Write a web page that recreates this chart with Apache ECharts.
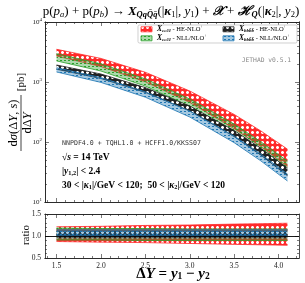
<!DOCTYPE html>
<html><head><meta charset="utf-8">
<script src="https://cdn.jsdelivr.net/npm/echarts@6/dist/echarts.min.js"></script>
<style>html,body{margin:0;padding:0;background:#fff}#c{width:305px;height:283px}</style>
</head><body><div id="c"></div>
<script>
// ---- data ----
const dY = [1.5, 2.0, 2.5, 3.0, 3.5, 3.8, 4.1];
const ccHE_lo = [2710, 1811, 1005, 457, 167, 84.3, 39.2];
const ccHE_hi = [3508, 2472, 1452, 708, 288, 153, 76];
const ccNLL_lo = [2249, 1524, 855, 395, 151, 76.9, 36.6];
const ccNLL_hi = [2965, 2009, 1127, 521, 199, 101, 48.2];
const bbHE_lo = [1633, 1143, 671, 329, 123, 60.4, 27.4];
const bbHE_hi = [1919, 1358, 807, 398, 155, 78.7, 36.9];
const bbNLL_lo = [1472, 984, 558, 261, 97.5, 48.5, 22.4];
const bbNLL_hi = [1730, 1183, 687, 329, 126, 63.2, 29.3];
// ratio panel
const rCcHE_lo = [0.875, 0.86, 0.85, 0.83, 0.81, 0.80, 0.79];
const rCcHE_hi = [1.21, 1.22, 1.24, 1.25, 1.27, 1.28, 1.29];
const rCcNLL_lo = [0.91, 0.91, 0.90, 0.90, 0.90, 0.90, 0.90];
const rCcNLL_hi = [1.18, 1.17, 1.17, 1.16, 1.16, 1.16, 1.16];
const rBbHE_lo = [0.96, 0.96, 0.96, 0.96, 0.96, 0.96, 0.96];
const rBbHE_hi = [1.11, 1.11, 1.11, 1.11, 1.11, 1.11, 1.11];
const rBbNLL_lo = [1.00, 1.00, 1.00, 1.00, 1.00, 1.00, 1.00];
const rBbNLL_hi = [1.14, 1.14, 1.14, 1.14, 1.14, 1.14, 1.14];
// ticks
const xTicks = [1.5, 2.0, 2.5, 3.0, 3.5, 4.0];
const xMinorTicks = [1.4,1.6,1.7,1.8,1.9,2.1,2.2,2.3,2.4,2.6,2.7,2.8,2.9,3.1,3.2,3.3,3.4,3.6,3.7,3.8,3.9,4.1,4.2];
const yLogTicks = [10, 100, 1000, 10000];
const yLogMinor = [20,30,40,50,60,70,80,90,200,300,400,500,600,700,800,900,2000,3000,4000,5000,6000,7000,8000,9000];
const ratioTicks = [0.5, 1.0, 1.5];

const RED = '#ff2a2a', GREEN = '#2ca02c', BLACK = '#222222', BLUE = '#1f77b4';
const SERIF = 'Liberation Serif';
const MONO = 'DejaVu Sans Mono';
const RAT_TOP = 214, RAT_H = 44;

function pat(kind, color) {
  const c = document.createElement('canvas');
  const g = c.getContext('2d');
  if (kind === 'x') {
    c.width = 5; c.height = 5;
    g.fillStyle = color; g.fillRect(0, 0, 5, 5);
    g.fillStyle = '#fff';
    g.fillRect(1, 2, 3, 1); g.fillRect(2, 1, 1, 3);
    g.globalAlpha = 0.5; g.fillRect(1, 1, 3, 3);
  } else {
    c.width = 4; c.height = 3;
    g.fillStyle = color; g.globalAlpha = 0.4; g.fillRect(0, 0, 4, 3);
    g.globalAlpha = 1; g.fillRect(0, 0, 2, 1);
  }
  return c;
}
const P = {
  red: pat('x', RED), green: pat('d', GREEN), black: pat('x', BLACK), blue: pat('d', BLUE)
};

function band(name, lo, hi, color, p, xi, yi) {
  return { type: 'custom', name, xAxisIndex: xi, yAxisIndex: yi, silent: true, clip: true,
    data: dY.map((x, i) => [x, lo[i], hi[i]]),
    encode: { x: 0, y: [1, 2] },
    renderItem: (params, api) => {
      if (params.dataIndex !== 0) return null;
      const up = dY.map((x, i) => api.coord([x, hi[i]]));
      const dn = dY.map((x, i) => api.coord([x, lo[i]]));
      return { type: 'group', children: [
        { type: 'polygon', shape: { points: up.concat(dn.slice().reverse()) },
          style: { fill: { image: p, repeat: 'repeat' }, stroke: null } },
        { type: 'polyline', shape: { points: up }, style: { stroke: color, lineWidth: 0.8, fill: null } },
        { type: 'polyline', shape: { points: dn }, style: { stroke: color, lineWidth: 0.8, fill: null } }
      ] };
    }
  };
}

const tickLab = { fontFamily: SERIF, fontSize: 7.5, color: '#222' };
function xAx(grid, pos, vals, len, labels) {
  return { type: 'value', gridIndex: grid, position: pos, min: 1.37, max: 4.23,
    axisLine: { show: true, lineStyle: { color: '#222', width: 0.8 } },
    axisTick: { show: true, inside: true, length: len, customValues: vals, lineStyle: { color: '#222', width: 0.6 } },
    axisLabel: labels ? { show: true, customValues: vals, margin: 4, ...tickLab, formatter: v => v.toFixed(1) } : { show: false },
    splitLine: { show: false } };
}
function expOf(v) { return v <= 5 ? Math.round(v) : Math.round(Math.log10(v)); }
function yLog(pos, vals, len, labels) {
  return { type: 'log', logBase: 10, gridIndex: 0, position: pos, min: 10, max: 10000,
    axisLine: { show: true, lineStyle: { color: '#222', width: 0.8 } },
    axisTick: { show: true, inside: true, length: len, customValues: vals, lineStyle: { color: '#222', width: 0.6 } },
    axisLabel: labels ? { show: true, customValues: vals, margin: 3, ...tickLab,
      formatter: v => '{b|10}{s|' + expOf(v) + '}',
      rich: { b: { fontFamily: SERIF, fontSize: 7, color: '#222' }, s: { fontFamily: SERIF, fontSize: 5, color: '#222', padding: [0, 0, 5, 0] } } } : { show: false },
    splitLine: { show: false }, minorTick: { show: false } };
}
function yRat(pos, labels) {
  return { type: 'value', gridIndex: 1, position: pos, min: 0.5, max: 1.5, interval: 0.5,
    axisLine: { show: true, lineStyle: { color: '#222', width: 0.8 } },
    axisTick: { show: true, inside: true, length: 4, lineStyle: { color: '#222', width: 0.6 } },
    minorTick: { show: true, splitNumber: 5, length: 2, lineStyle: { color: '#222', width: 0.6 } },
    axisLabel: labels ? { show: true, customValues: ratioTicks, showMinLabel: true, showMaxLabel: true, margin: 4, ...tickLab, formatter: v => v.toFixed(1) } : { show: false },
    splitLine: { show: false } };
}

const series = [
  band('ccHE', ccHE_lo, ccHE_hi, RED, P.red, 0, 0),
  band('ccNLL', ccNLL_lo, ccNLL_hi, GREEN, P.green, 0, 0),
  band('bbHE', bbHE_lo, bbHE_hi, BLACK, P.black, 0, 0),
  band('bbNLL', bbNLL_lo, bbNLL_hi, BLUE, P.blue, 0, 0),
  band('rccHE', rCcHE_lo, rCcHE_hi, RED, P.red, 4, 4),
  band('rccNLL', rCcNLL_lo, rCcNLL_hi, GREEN, P.green, 4, 4),
  band('rbbHE', rBbHE_lo, rBbHE_hi, BLACK, P.black, 4, 4),
  band('rbbNLL', rBbNLL_lo, rBbNLL_hi, BLUE, P.blue, 4, 4)
];
series[series.length - 1].markLine = { silent: true, symbol: 'none', label: { show: false }, z: 10,
  lineStyle: { color: '#000', width: 0.9, type: 'solid' }, data: [{ yAxis: 1.0 }] };

const TS = 13, TSS = 8.5;
const richMath = {
  r: { fontFamily: SERIF, fontSize: TS, color: '#111' },
  i: { fontFamily: SERIF, fontSize: TS, fontStyle: 'italic', color: '#111' },
  X: { fontFamily: SERIF, fontSize: TS, fontStyle: 'italic', fontWeight: 'bold', color: '#111' },
  s: { fontFamily: SERIF, fontSize: TSS, color: '#111', padding: [5, 0, 0, 0] },
  sb: { fontFamily: SERIF, fontSize: TSS, fontStyle: 'italic', fontWeight: 'bold', color: '#111', padding: [5, 0, 0, 0] },
  si: { fontFamily: SERIF, fontSize: TSS, fontStyle: 'italic', color: '#111', padding: [5, 0, 0, 0] }
};
const legRich = {
  X: { fontFamily: SERIF, fontSize: 7.5, fontStyle: 'italic', fontWeight: 'bold', color: '#111' },
  s: { fontFamily: SERIF, fontSize: 5, fontStyle: 'italic', fontWeight: 'bold', color: '#111', padding: [3, 0, 0, 0] },
  t: { fontFamily: SERIF, fontSize: 6.5, color: '#222' },
  u: { fontFamily: SERIF, fontSize: 4.5, color: '#222', padding: [0, 0, 4, 0] }
};
const AS = 9.5;
const annRich = {
  r: { fontFamily: SERIF, fontSize: AS, color: '#111', fontWeight: 'bold' },
  i: { fontFamily: SERIF, fontSize: AS, color: '#111', fontStyle: 'italic', fontWeight: 'bold' },
  n: { fontFamily: SERIF, fontSize: 6.3, color: '#111', fontWeight: 'bold', padding: [3, 0, 0, 0] }
};

function legItem(x, y, p, color, sub, txt) {
  return [
    { type: 'rect', shape: { x: x, y: y - 2.5, width: 11, height: 5 },
      style: { fill: { image: p, repeat: 'repeat' }, stroke: color, lineWidth: 0.8 }, z: 101 },
    { type: 'text', x: x + 16, y: y, z: 101,
      style: { text: '{X|X}{s|' + sub + '}{t| - ' + txt + '}{u|+}', rich: legRich, verticalAlign: 'middle', align: 'left' } }
  ];
}

const chart = echarts.init(document.getElementById('c'));
chart.setOption({
  animation: false,
  backgroundColor: '#fff',
  grid: [
    { left: 45, right: 6, top: 22, height: 180 },
    { left: 45, right: 6, top: RAT_TOP, height: RAT_H }
  ],
  xAxis: [
    xAx(0, 'bottom', xTicks, 4, false),
    xAx(0, 'top', xTicks, 4, false),
    xAx(0, 'bottom', xMinorTicks, 2, false),
    xAx(0, 'top', xMinorTicks, 2, false),
    xAx(1, 'bottom', xTicks, 4, true),
    xAx(1, 'top', xTicks, 4, false),
    xAx(1, 'bottom', xMinorTicks, 2, false),
    xAx(1, 'top', xMinorTicks, 2, false)
  ],
  yAxis: [
    yLog('left', yLogTicks, 4, true),
    yLog('right', yLogTicks, 4, false),
    yLog('left', yLogMinor, 2, false),
    yLog('right', yLogMinor, 2, false),
    yRat('left', true),
    yRat('right', false)
  ],
  series,
  graphic: [
    { type: 'text', x: 171, y: 12, z: 100, style: { align: 'center', verticalAlign: 'middle', rich: richMath,
      text: '{r|p(}{i|p}{si|a}{r|) + p(}{i|p}{si|b}{r|) → }{X|X}{sb|QqQ̄q̄}{r|(|}{X|κ}{s|1}{r||, }{i|y}{s|1}{r|) + }{X|𝒳}{r| + }{X|ℋ}{sb|Q}{r|(|}{X|κ}{s|2}{r||, }{i|y}{s|2}{r|)}' } },
    { type: 'rect', z: 100, shape: { x: 138, y: 25, width: 159, height: 18, r: 1.5 },
      style: { fill: '#fff', stroke: '#bbb', lineWidth: 0.7 } },
    ...legItem(141, 29.3, P.red, RED, 'ccc̄c̄', 'HE-NLO'),
    ...legItem(141, 38.3, P.green, GREEN, 'ccc̄c̄', 'NLL/NLO'),
    ...legItem(223, 29.3, P.black, BLACK, 'bbb̄b̄', 'HE-NLO'),
    ...legItem(223, 38.3, P.blue, BLUE, 'bbb̄b̄', 'NLL/NLO'),
    { type: 'text', x: 291, y: 60, z: 100, style: { text: 'JETHAD v0.5.1', fontFamily: MONO, fontSize: 6.3, fill: '#888', align: 'right', verticalAlign: 'middle' } },
    { type: 'text', x: 62, y: 143, z: 100, style: { text: 'NNPDF4.0 + TQHL1.0 + HCFF1.0/KKSS07', fontFamily: MONO, fontSize: 6.6, fill: '#333', align: 'left', verticalAlign: 'middle' } },
    { type: 'text', x: 62, y: 158, z: 100, style: { rich: annRich, align: 'left', verticalAlign: 'middle', text: '{r|√}{i|s}{r| = 14 TeV}' } },
    { type: 'text', x: 62, y: 172, z: 100, style: { rich: annRich, align: 'left', verticalAlign: 'middle', text: '{r||}{i|y}{n|1,2}{r|| < 2.4}' } },
    { type: 'text', x: 62, y: 186, z: 100, style: { rich: annRich, align: 'left', verticalAlign: 'middle', text: '{r|30 < |}{i|κ}{n|1}{r||/GeV < 120;  50 < |}{i|κ}{n|2}{r||/GeV < 120}' } },
    // y axis title (rotated fraction)
    { type: 'group', x: 21, y: 123, rotation: Math.PI / 2, z: 100, children: [
      { type: 'text', x: 0, y: -7.5, style: { rich: { r: { fontFamily: SERIF, fontSize: 12.5, color: '#111' }, i: { fontFamily: SERIF, fontSize: 12.5, fontStyle: 'italic', color: '#111' } },
        text: '{r|d}{i|σ}{r|(Δ}{i|Y}{r|, }{i|s}{r|)}', align: 'center', verticalAlign: 'middle' } },
      { type: 'line', shape: { x1: -28, y1: 0, x2: 28, y2: 0 }, style: { stroke: '#111', lineWidth: 0.8 } },
      { type: 'text', x: 0, y: 7, style: { rich: { r: { fontFamily: SERIF, fontSize: 12.5, color: '#111' }, i: { fontFamily: SERIF, fontSize: 12.5, fontStyle: 'italic', color: '#111' } },
        text: '{r|dΔ}{i|Y}', align: 'center', verticalAlign: 'middle' } },
      { type: 'text', x: 41, y: 0, style: { text: '[pb]', fontFamily: SERIF, fontSize: 11, fill: '#111', align: 'center', verticalAlign: 'middle' } }
    ] },
    { type: 'text', x: 26, y: 235, rotation: Math.PI / 2, z: 100, style: { text: 'ratio', fontFamily: SERIF, fontSize: 11, fill: '#111', align: 'center', verticalAlign: 'middle' } },
    { type: 'text', x: 173, y: 274, z: 100, style: { align: 'center', verticalAlign: 'middle',
      rich: { X: { fontFamily: SERIF, fontSize: 15, fontWeight: 'bold', fontStyle: 'italic', color: '#111' }, r: { fontFamily: SERIF, fontSize: 15, fontWeight: 'bold', color: '#111' }, s: { fontFamily: SERIF, fontSize: 9.5, fontWeight: 'bold', color: '#111', padding: [5, 0, 0, 0] } },
      text: '{r|Δ}{X|Y}{r| = }{X|y}{s|1}{r| − }{X|y}{s|2}' } }
  ]
});
</script></body></html>
